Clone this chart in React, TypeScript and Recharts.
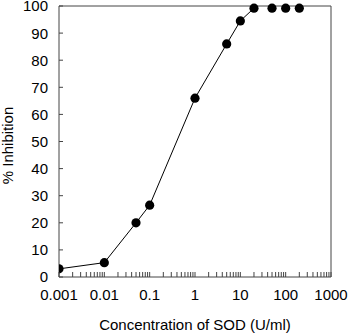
import React from "react";
import { ScatterChart, Scatter, XAxis, YAxis, ReferenceLine } from "recharts";

// SOD inhibition curve, log x axis
const concentration = [0.001, 0.01, 0.05, 0.1, 1, 5, 10, 20, 50, 100, 200];
const inhibition = [3, 5.3, 20, 26.5, 66, 86, 94.5, 99.2, 99.2, 99.2, 99.2];
// the connecting line stops at the first plateau point
const lineCount = 8;

const decadeTicks = [0.001, 0.01, 0.1, 1, 10, 100, 1000];
const minorSteps = [2, 3, 4, 5, 6, 7, 8, 9];
const yTicks = [0, 10, 20, 30, 40, 50, 60, 70, 80, 90, 100];

const points = concentration.map((x, i) => ({ x, y: inhibition[i] }));
const curve = points.slice(0, lineCount);
const xTicks = [
  ...decadeTicks,
  ...decadeTicks.slice(0, -1).flatMap((d) => minorSteps.map((m) => +(d * m).toPrecision(3))),
].sort((a, b) => a - b);

const font = "'Liberation Sans', Arial, Helvetica, sans-serif";
const axisColor = "#444";

const XTick = ({ x, y, payload }: any) => {
  const major = decadeTicks.includes(payload.value);
  return (
    <g>
      <line x1={x} x2={x} y1={y} y2={y - 5} stroke={axisColor} strokeWidth={1} />
      {major && (
        <text x={x} y={y + 23} textAnchor="middle" fontSize={15} fontFamily={font} fill="#000">
          {payload.value}
        </text>
      )}
    </g>
  );
};

const YTick = ({ x, y, payload }: any) => (
  <g>
    <line x1={x} x2={x + 4} y1={y} y2={y} stroke={axisColor} strokeWidth={1} />
    <text x={x - 11} y={y + 5.4} textAnchor="end" fontSize={15} fontFamily={font} fill="#000">
      {payload.value}
    </text>
  </g>
);

export default function App() {
  return (
    <div style={{ width: 350, height: 334 }}>
      <style>{"body{margin:0}"}</style>
      <ScatterChart width={350} height={334} margin={{ top: 6, right: 19, bottom: 0, left: 0 }}>
        <XAxis
          type="number"
          dataKey="x"
          scale="log"
          domain={[0.001, 1000]}
          ticks={xTicks}
          interval={0}
          tickSize={0}
          tickMargin={0}
          tickLine={false}
          tick={<XTick />}
          height={57}
          stroke={axisColor}
          allowDataOverflow
          label={{
            content: ({ viewBox }: any) => (
              <text
                x={viewBox.x + viewBox.width / 2}
                y={viewBox.y + 53}
                textAnchor="middle"
                fontSize={15}
                fontFamily={font}
                fill="#000"
              >
                Concentration of SOD (U/ml)
              </text>
            ),
          }}
        />
        <YAxis
          type="number"
          dataKey="y"
          domain={[0, 100]}
          ticks={yTicks}
          interval={0}
          tickSize={0}
          tickMargin={0}
          tickLine={false}
          tick={<YTick />}
          width={59}
          stroke={axisColor}
          label={{
            content: ({ viewBox }: any) => {
              const cx = 13;
              const cy = viewBox.y + viewBox.height / 2 + 4;
              return (
                <text
                  x={cx}
                  y={cy}
                  transform={`rotate(-90 ${cx} ${cy})`}
                  textAnchor="middle"
                  fontSize={15}
                  fontFamily={font}
                  fill="#000"
                >
                  % Inhibition
                </text>
              );
            },
          }}
        />
        <ReferenceLine y={100} stroke={axisColor} strokeWidth={1} />
        <ReferenceLine x={1000} stroke={axisColor} strokeWidth={1} />
        <Scatter
          data={curve}
          line={{ stroke: "#000", strokeWidth: 1 }}
          shape={() => null}
          isAnimationActive={false}
        />
        <Scatter
          data={points}
          shape={(p: any) => <circle cx={p.cx} cy={p.cy} r={4.6} fill="#000" />}
          isAnimationActive={false}
        />
      </ScatterChart>
    </div>
  );
}
